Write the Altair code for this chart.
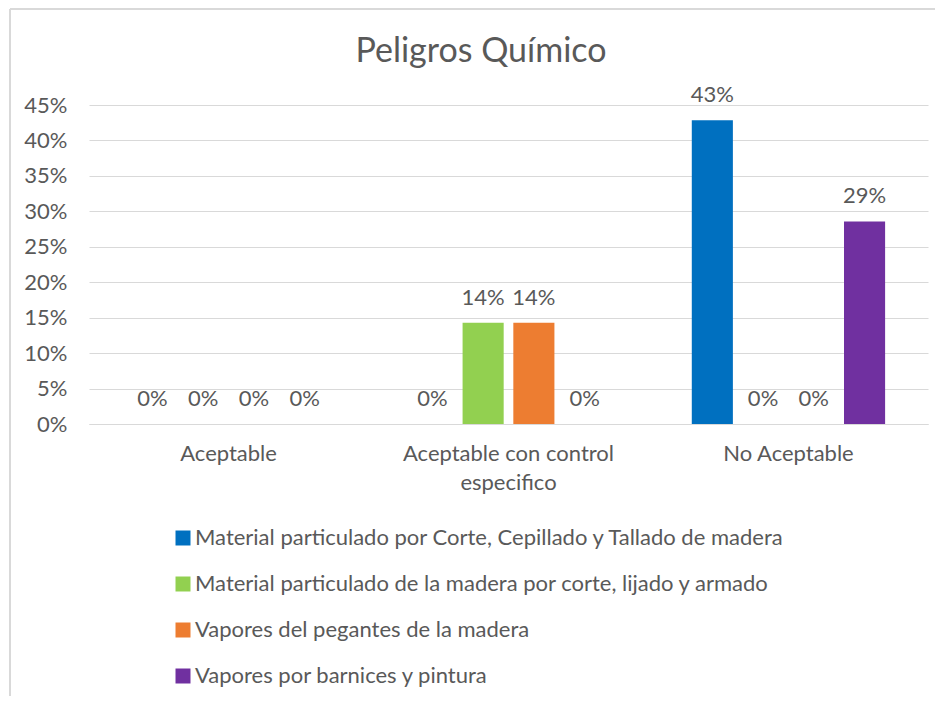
import altair as alt
import pandas as pd

# ---- data ----
categories = ["Aceptable", "Aceptable con control especifico", "No Aceptable"]
series = [
    "Material particulado por Corte, Cepillado y Tallado de madera",
    "Material particulado de la madera por corte, lijado y armado",
    "Vapores del pegantes de la madera",
    "Vapores por barnices y pintura",
]
colors = ["#0070C0", "#92D050", "#ED7D31", "#7030A0"]
vals_corte = [0.0, 0.0, 0.4286]
vals_lijado = [0.0, 0.1429, 0.0]
vals_pegantes = [0.0, 0.1429, 0.0]
vals_barnices = [0.0, 0.0, 0.2857]
y_ticks = [0, 0.05, 0.10, 0.15, 0.20, 0.25, 0.30, 0.35, 0.40, 0.45]
title_text = "Peligros Químico"

rows = []
for s, vals in zip(series, [vals_corte, vals_lijado, vals_pegantes, vals_barnices]):
    for c, v in zip(categories, vals):
        rows.append({"cat": c, "series": s, "value": v})
df = pd.DataFrame(rows)

FONT = "Lato"
GRAY = "#595959"
GRID = "#D9D9D9"
FS = 22

label_expr = (
    "datum.label == 'Aceptable con control especifico' ? "
    "['Aceptable con control', 'especifico'] : datum.label"
)

base = alt.Chart(df).encode(
    x=alt.X(
        "cat:N",
        sort=categories,
        title=None,
        scale=alt.Scale(paddingInner=0.275, paddingOuter=0.136),
        axis=alt.Axis(
            labelAngle=0,
            labelFont=FONT,
            labelFontSize=FS,
            labelColor=GRAY,
            ticks=False,
            domainColor=GRID,
            domainWidth=1,
            labelPadding=19,
            labelLineHeight=29,
            labelExpr=label_expr,
            labelLimit=400,
        ),
    ),
    xOffset=alt.XOffset(
        "series:N", sort=series, scale=alt.Scale(paddingInner=0.19, paddingOuter=0.095)
    ),
    y=alt.Y(
        "value:Q",
        title=None,
        scale=alt.Scale(domain=[0, 0.45], nice=False),
        axis=alt.Axis(
            values=y_ticks,
            format=".0%",
            labelFont=FONT,
            labelFontSize=FS,
            labelColor=GRAY,
            ticks=False,
            domain=False,
            gridColor=GRID,
            gridWidth=1,
            labelPadding=22,
        ),
    ),
)

bars = base.mark_bar().encode(
    color=alt.Color(
        "series:N",
        sort=series,
        scale=alt.Scale(domain=series, range=colors),
        legend=alt.Legend(
            title=None,
            orient="none",
            legendX=83,
            legendY=422,
            direction="vertical",
            symbolType="square",
            symbolSize=225,
            symbolStrokeWidth=0,
            labelFont=FONT,
            labelFontSize=FS,
            labelColor=GRAY,
            labelLimit=800,
            labelOffset=1,
            rowPadding=24,
        ),
    )
)

labels = base.mark_text(
    dy=-18, baseline="alphabetic", font=FONT, fontSize=FS, color=GRAY
).encode(text=alt.Text("value:Q", format=".0%"))

title_df = pd.DataFrame({"t": [title_text]})
title_mark = alt.Chart(title_df).mark_text(
    font=FONT, fontSize=34, color=GRAY, align="center", baseline="alphabetic"
).encode(text="t:N", x=alt.value(392), y=alt.value(-43))

frame_df = pd.DataFrame({"k": [0]})
border_left = alt.Chart(frame_df).mark_rule(color="#D9D9D9", strokeWidth=2).encode(
    x=alt.value(-79), y=alt.value(-96), y2=alt.value(600)
)
border_top = alt.Chart(frame_df).mark_rule(color="#D9D9D9", strokeWidth=2).encode(
    x=alt.value(-79), x2=alt.value(860), y=alt.value(-96)
)

chart = (
    alt.layer(border_left, border_top, title_mark, bars, labels)
    .properties(
        width=839,
        height=319,
        padding={"left": 81, "top": 97, "right": 7, "bottom": 272},
        autosize=alt.AutoSizeParams(type="none"),
        background="white",
    )
    .configure_view(stroke=None)
)

chart.save("out.html", embed_options={"renderer": "svg", "actions": False})
